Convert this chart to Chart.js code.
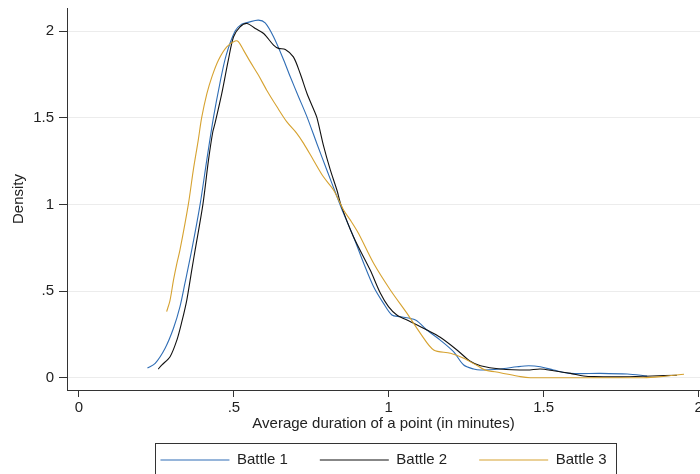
<!DOCTYPE html>
<html>
<head>
<meta charset="utf-8">
<script src="https://cdn.jsdelivr.net/npm/chart.js@4/dist/chart.umd.min.js"></script>
<style>
  html, body { margin: 0; padding: 0; background: #fff; overflow: hidden; }
  #wrap { position: relative; width: 700px; height: 474px; }
</style>
</head>
<body>
<div id="wrap"><canvas id="chart"></canvas></div>
<script>
// kernel density estimates
const battle1X = [0.221, 0.246, 0.278, 0.305, 0.326, 0.342, 0.364, 0.391, 0.412, 0.434, 0.455, 0.475, 0.504, 0.525, 0.545, 0.579, 0.601, 0.628, 0.661, 0.682, 0.709, 0.736, 0.768, 0.8, 0.833, 0.854, 0.886, 0.919, 0.951, 0.983, 1.01, 1.037, 1.086, 1.123, 1.166, 1.209, 1.242, 1.274, 1.296, 1.36, 1.414, 1.452, 1.489, 1.532, 1.586, 1.683, 1.77, 1.834];
const battle1Y = [0.056, 0.083, 0.17, 0.285, 0.41, 0.545, 0.737, 1.0, 1.25, 1.5, 1.7, 1.86, 2.0, 2.04, 2.05, 2.063, 2.047, 1.967, 1.832, 1.736, 1.62, 1.505, 1.35, 1.198, 1.044, 0.948, 0.813, 0.66, 0.525, 0.429, 0.362, 0.352, 0.333, 0.275, 0.217, 0.15, 0.073, 0.05, 0.044, 0.05, 0.063, 0.069, 0.063, 0.044, 0.025, 0.025, 0.021, 0.01];

const battle2X = [0.256, 0.267, 0.294, 0.316, 0.332, 0.348, 0.364, 0.375, 0.4, 0.418, 0.432, 0.439, 0.461, 0.482, 0.499, 0.52, 0.542, 0.569, 0.596, 0.628, 0.644, 0.666, 0.692, 0.714, 0.736, 0.757, 0.768, 0.789, 0.811, 0.833, 0.845, 0.886, 0.94, 0.973, 0.999, 1.026, 1.07, 1.123, 1.166, 1.22, 1.263, 1.296, 1.36, 1.447, 1.489, 1.532, 1.586, 1.629, 1.662, 1.75, 1.85, 1.93];
const battle2Y = [0.05, 0.073, 0.121, 0.217, 0.323, 0.448, 0.621, 0.737, 1.0, 1.255, 1.419, 1.467, 1.64, 1.832, 1.967, 2.024, 2.044, 2.015, 1.986, 1.919, 1.9, 1.894, 1.851, 1.755, 1.64, 1.55, 1.5, 1.34, 1.2, 1.08, 1.0, 0.813, 0.621, 0.487, 0.41, 0.362, 0.323, 0.275, 0.233, 0.16, 0.095, 0.069, 0.05, 0.044, 0.05, 0.04, 0.025, 0.01, 0.006, 0.005, 0.01, 0.014];

const battle3X = [0.283, 0.294, 0.305, 0.316, 0.326, 0.353, 0.369, 0.385, 0.396, 0.413, 0.429, 0.45, 0.477, 0.504, 0.515, 0.531, 0.553, 0.579, 0.606, 0.639, 0.671, 0.703, 0.725, 0.757, 0.789, 0.822, 0.854, 0.876, 0.902, 0.951, 1.005, 1.059, 1.102, 1.145, 1.199, 1.242, 1.285, 1.31, 1.36, 1.425, 1.457, 1.6, 1.823, 1.877, 1.953];
const battle3Y = [0.381, 0.448, 0.563, 0.66, 0.737, 1.0, 1.198, 1.371, 1.5, 1.64, 1.736, 1.832, 1.909, 1.942, 1.938, 1.89, 1.822, 1.746, 1.659, 1.563, 1.476, 1.41, 1.352, 1.255, 1.159, 1.082, 0.967, 0.909, 0.833, 0.66, 0.506, 0.371, 0.256, 0.16, 0.141, 0.112, 0.07, 0.045, 0.029, 0.006, 0.0, 0.0, 0.0, 0.006, 0.02];

const seriesLabels = ["Battle 1", "Battle 2", "Battle 3"];
const xTickValues = [0, 0.5, 1, 1.5, 2];
const yTickValues = [0, 0.5, 1, 1.5, 2];

const FONT = "'Liberation Sans', Arial, sans-serif";
const AXIS_COLOR = "#333333";
const TEXT_COLOR = "#222222";

const toPoints = (xs, ys) => xs.map((x, i) => ({ x: x, y: ys[i] }));

// drop leading zero the way the original labels do (.5, 1.5)
const stataLabel = (value) => {
  const s = String(value);
  return s.startsWith("0.") ? s.slice(1) : s;
};

const legendFrame = {
  id: "legendFrame",
  afterDraw(chart) {
    const boxes = chart.legend.legendHitBoxes;
    if (!boxes || !boxes.length) return;
    const first = boxes[0];
    const last = boxes[boxes.length - 1];
    const left = Math.round(first.left - 5) + 0.5;
    const right = Math.round(last.left + last.width + 9) + 0.5;
    const top = Math.round(first.top - 10) + 0.5;
    const ctx = chart.ctx;
    ctx.save();
    ctx.strokeStyle = AXIS_COLOR;
    ctx.lineWidth = 1;
    ctx.strokeRect(left, top, right - left, 60);
    ctx.restore();
  },
};

const datasets = [
  { data: toPoints(battle1X, battle1Y), color: "#2f6db5", order: 3 },
  { data: toPoints(battle2X, battle2Y), color: "#111111", order: 2 },
  { data: toPoints(battle3X, battle3Y), color: "#d6a230", order: 1 },
].map((d, index) => ({
  label: seriesLabels[index],
  data: d.data,
  showLine: true,
  borderColor: d.color,
  backgroundColor: d.color,
  borderWidth: 1.1,
  pointRadius: 0,
  tension: 0.3,
  order: d.order,
}));

new Chart(document.getElementById("chart"), {
  type: "scatter",
  data: { datasets: datasets },
  plugins: [legendFrame],
  options: {
    responsive: true,
    maintainAspectRatio: false,
    animation: false,
    layout: { padding: { top: 8, right: 0, left: 0, bottom: -3.5 } },
    plugins: {
      tooltip: { enabled: false },
      legend: {
        position: "bottom",
        fullSize: false,
        labels: {
          font: { family: FONT, size: 15 },
          color: TEXT_COLOR,
          boxWidth: 69,
          boxHeight: 1.2,
          padding: 32,
          sort: (a, b) => a.datasetIndex - b.datasetIndex,
          generateLabels: (chart) =>
            Chart.defaults.plugins.legend.labels
              .generateLabels(chart)
              .map((item) => ({ ...item, lineWidth: 0 })),
        },
      },
    },
    scales: {
      x: {
        type: "linear",
        min: -0.0387,
        max: 2.0046,
        afterBuildTicks: (scale) => {
          scale.ticks = xTickValues.map((v) => ({ value: v }));
        },
        afterFit: (scale) => {
          scale.height = 30.5;
          scale.paddingLeft = 0;
          scale.paddingRight = 0;
        },
        ticks: {
          autoSkip: false,
          maxRotation: 0,
          padding: 2,
          color: TEXT_COLOR,
          font: { family: FONT, size: 15 },
          callback: (value) => stataLabel(value),
        },
        grid: {
          drawOnChartArea: false,
          tickLength: 7,
          tickColor: AXIS_COLOR,
        },
        border: { color: AXIS_COLOR, width: 1 },
        title: {
          display: true,
          text: "Average duration of a point (in minutes)",
          color: TEXT_COLOR,
          font: { family: FONT, size: 15 },
          padding: { top: 0, bottom: -12.5 },
        },
      },
      y: {
        type: "linear",
        min: -0.071,
        max: 2.133,
        afterBuildTicks: (scale) => {
          scale.ticks = yTickValues.map((v) => ({ value: v }));
        },
        afterFit: (scale) => {
          scale.width = 67;
          scale.paddingTop = 0;
          scale.paddingBottom = 0;
        },
        ticks: {
          padding: 5,
          color: TEXT_COLOR,
          font: { family: FONT, size: 15 },
          callback: (value) => stataLabel(value),
        },
        grid: {
          color: "#ececec",
          lineWidth: 1,
          tickLength: 8,
          tickColor: AXIS_COLOR,
        },
        border: { color: AXIS_COLOR, width: 1 },
        title: {
          display: true,
          text: "Density",
          color: TEXT_COLOR,
          font: { family: FONT, size: 15 },
          padding: { top: 10, bottom: 0 },
        },
      },
    },
  },
});
</script>
</body>
</html>
